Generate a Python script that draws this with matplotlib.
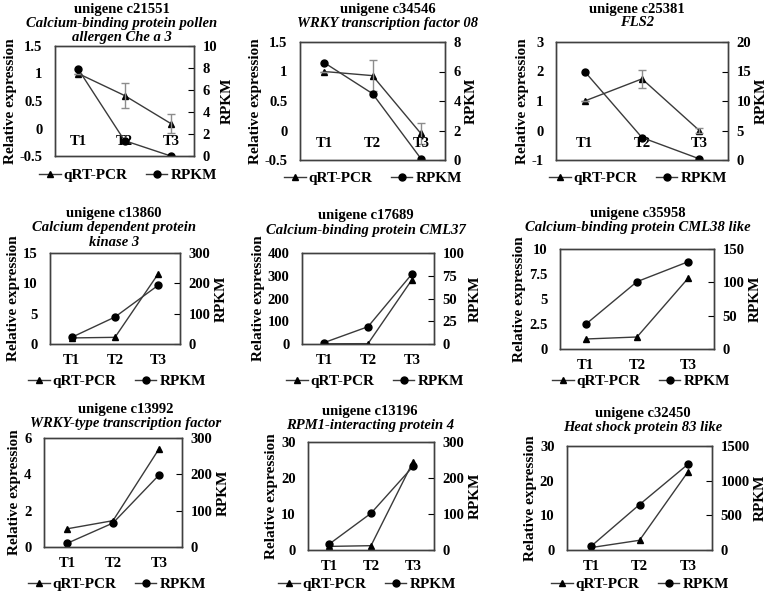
import numpy as np
import matplotlib
matplotlib.use("Agg")
import matplotlib.pyplot as plt
from matplotlib.ticker import FuncFormatter

plt.rcParams['font.family'] = 'Liberation Serif'
plt.rcParams['font.weight'] = 'bold'

# data
times = ['T1', 'T2', 'T3']
genes = ['unigene c21551', 'unigene c34546', 'unigene c25381',
         'unigene c13860', 'unigene c17689', 'unigene c35958',
         'unigene c13992', 'unigene c13196', 'unigene c32450']
names = [['Calcium-binding protein pollen', 'allergen Che a 3'],
         ['WRKY transcription factor 08'],
         ['FLS2'],
         ['Calcium dependent protein', 'kinase 3'],
         ['Calcium-binding protein CML37'],
         ['Calcium-binding protein CML38 like'],
         ['WRKY-type transcription factor'],
         ['RPM1-interacting protein 4'],
         ['Heat shock protein 83 like']]
qrt = [[1.0, 0.6, 0.09],
       [1.0, 0.93, -0.05],
       [1.0, 1.75, 0.0],
       [1.0, 1.1, 11.6],
       [1.0, 1.5, 283],
       [1.0, 1.2, 7.1],
       [1.0, 1.45, 5.4],
       [1.0, 1.2, 24.5],
       [0.7, 2.8, 22.5]]
qrt_err = [[0.0, 0.23, 0.18],
           [0.0, 0.26, 0.18],
           [0.0, 0.3, 0.07],
           None, None, None, None, None, None]
rpkm = [[7.9, 1.4, 0.0],
        [6.6, 4.5, 0.1],
        [15.0, 3.8, 0.2],
        [22, 89, 194],
        [1.5, 19, 77],
        [37, 101, 131],
        [10, 66, 198],
        [16, 102, 232],
        [55, 655, 1235]]
left_ticks = [[-0.5, 0, 0.5, 1, 1.5],
              [-0.5, 0, 0.5, 1, 1.5],
              [-1, 0, 1, 2, 3],
              [0, 5, 10, 15],
              [0, 100, 200, 300, 400],
              [0, 2.5, 5, 7.5, 10],
              [0, 2, 4, 6],
              [0, 10, 20, 30],
              [0, 10, 20, 30]]
right_ticks = [[0, 2, 4, 6, 8, 10],
               [0, 2, 4, 6, 8],
               [0, 5, 10, 15, 20],
               [0, 100, 200, 300],
               [0, 25, 50, 75, 100],
               [0, 50, 100, 150],
               [0, 100, 200, 300],
               [0, 100, 200, 300],
               [0, 500, 1000, 1500]]

W, H = 778, 596
# axes boxes in pixels: left, top, right, bottom
boxes = [(55, 46, 194, 156), (300, 42, 445, 160), (556, 42, 728, 160),
         (50, 253, 180, 344), (302, 253, 434, 344), (560, 249, 714, 349),
         (44, 438, 182, 547), (308, 442, 434, 550), (567, 446, 712, 550)]
title_x = [122, 388, 637, 114, 366, 638, 126, 370, 643]
title_y = [9, 9, 9, 214, 216, 214, 409, 411, 413]
leg_x = [128, 373, 638, 117, 375, 641, 117, 367, 640]
leg_y = [175, 178, 178, 381, 381, 381, 584, 584, 584]

fig = plt.figure(figsize=(W / 100, H / 100), dpi=100)
fmt = FuncFormatter(lambda v, p: '%g' % v)
lc = '#3a3a3a'

for i in range(9):
    l, t, r, b = boxes[i]
    ax = fig.add_axes([l / W, 1 - b / H, (r - l) / W, (b - t) / H])
    ax2 = ax.twinx()
    x = np.arange(3)
    h1, = ax.plot(x, qrt[i], color=lc, lw=1, marker='^', ms=5,
                  mfc='black', mec='black', label='qRT-PCR')
    if qrt_err[i] is not None:
        ax.errorbar(x, qrt[i], yerr=qrt_err[i], fmt='none', ecolor='#8c8c8c',
                    elinewidth=1, capsize=3)
    h2, = ax2.plot(x, rpkm[i], color=lc, lw=1, marker='o', ms=5,
                   mfc='black', mec='black', label='RPKM')
    ax.set_xlim(-0.5, 2.5)
    ax.set_ylim(left_ticks[i][0], left_ticks[i][-1])
    ax.set_yticks(left_ticks[i])
    ax.yaxis.set_major_formatter(fmt)
    ax2.set_ylim(right_ticks[i][0], right_ticks[i][-1])
    ax2.set_yticks(right_ticks[i])
    ax2.yaxis.set_major_formatter(fmt)
    ax.tick_params(axis='y', length=0, pad=9, labelsize=10.5)
    ax2.tick_params(axis='y', direction='in', length=4, pad=6, labelsize=10.5)
    for a in (ax, ax2):
        for s in a.spines.values():
            s.set_color('#404040')
            s.set_linewidth(1)
    if i < 3:
        ax.set_xticks([])
        for k, lab in enumerate(times):
            ax.annotate(lab, (k, 0), xytext=(0, -5), textcoords='offset points',
                        ha='center', va='top', fontsize=10.5, fontweight='bold')
    else:
        ax.set_xticks(x)
        ax.set_xticklabels(times)
        ax.tick_params(axis='x', length=0, pad=7, labelsize=10.5)

    ax.set_ylabel('Relative expression', fontsize=11, fontweight='bold',
                  labelpad=2)
    ax2.set_ylabel('RPKM', fontsize=11, fontweight='bold', labelpad=3)

    # title lines
    fig.text(title_x[i] / W, 1 - title_y[i] / H, genes[i], ha='center',
             va='center', fontsize=10.5, fontweight='bold')
    for j, line in enumerate(names[i]):
        fig.text(title_x[i] / W, 1 - (title_y[i] + 14 * (j + 1)) / H, line,
                 ha='center', va='center', fontsize=10.5, fontweight='bold',
                 style='italic')

    ax.legend([h1, h2], ['qRT-PCR', 'RPKM'], ncol=2, frameon=False,
              loc='center', bbox_to_anchor=(leg_x[i] / W, 1 - leg_y[i] / H),
              bbox_transform=fig.transFigure, fontsize=11,
              handlelength=1.4, handletextpad=0.2, columnspacing=1.2,
              borderaxespad=0, borderpad=0)

fig.savefig('out.png', dpi=100)
